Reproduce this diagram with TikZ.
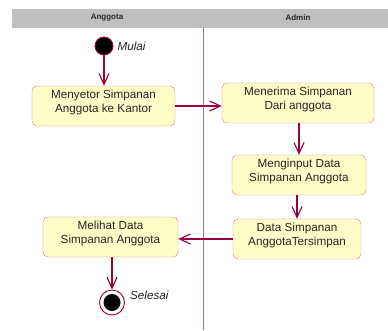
\documentclass[tikz,border=0pt]{standalone}
\usepackage{fontspec}
\setmainfont{Liberation Sans}
\usetikzlibrary{arrows.meta,positioning}
\definecolor{flowred}{HTML}{990040}
\definecolor{boxline}{HTML}{D08090}
\definecolor{boxfill}{HTML}{FFFDC8}
\definecolor{laneline}{HTML}{B86888}

\tikzset{
  activity/.style={draw=boxline, fill=boxfill, rounded corners=5pt, align=center,
    minimum height=40pt, inner sep=0pt, text depth=10pt, text=black!85, font=\fontsize{11.7}{14}\selectfont},
  flow/.style={draw=flowred, line width=1.2pt, -{Straight Barb[length=11pt,width=10pt,line width=1.1pt]}},
  lanetitle/.style={font=\fontsize{8}{9}\selectfont\bfseries, text=black!85},
  statelabel/.style={font=\fontsize{11.7}{14}\selectfont\itshape, text=black!85, inner sep=0pt}
}

\begin{document}
\begin{tikzpicture}[x=1pt, y=-1pt]
\useasboundingbox (0,0) rectangle (388,330);

\fill[gray!50] (12,9) rectangle (388,27.5);
\node[lanetitle] (lane1) at (107,18) {Anggota};
\node[lanetitle] (lane2) at (298,18) {Admin};
\draw[laneline, line width=0.9pt] (203,27.5) -- (203,330);

\node[circle, fill=black, draw=flowred, line width=0.8pt, minimum size=18pt, inner sep=0pt] (start) at (104,46) {};
\node[statelabel, right=4pt of start] (mulai) {Mulai};

\node[activity, minimum width=143pt] (b1) at (103.5,106) {Menyetor Simpanan\\Anggota ke Kantor};
\node[activity, minimum width=152pt] (b2) at (298,103) {Menerima Simpanan\\Dari anggota};
\node[activity, minimum width=134pt] (b3) at (299,175) {Menginput Data\\Simpanan Anggota};
\node[activity, minimum width=128pt] (b4) at (297,239) {Data Simpanan\\AnggotaTersimpan};
\node[activity, minimum width=135pt] (b5) at (110.5,237) {Melihat Data\\Simpanan Anggota};

\node[circle, fill=white, draw=flowred, line width=0.9pt, minimum size=25pt, inner sep=0pt] (end) at (112,302.5) {};
\node[circle, fill=black, minimum size=17pt, inner sep=0pt] (endin) at (end) {};
\node[statelabel, right=5pt of end, yshift=7pt] (selesai) {Selesai};

\draw[flow] (start) -- (start |- b1.north);
\draw[flow] (b1.east) -- (b1.east -| b2.west);
\draw[flow] (b3.north |- b2.south) -- (b3.north);
\draw[flow] (b4.north |- b3.south) -- (b4.north);
\draw[flow] (b4.west) -- (b4.west -| b5.east);
\draw[flow] (end |- b5.south) -- (end.north);
\end{tikzpicture}
\end{document}
